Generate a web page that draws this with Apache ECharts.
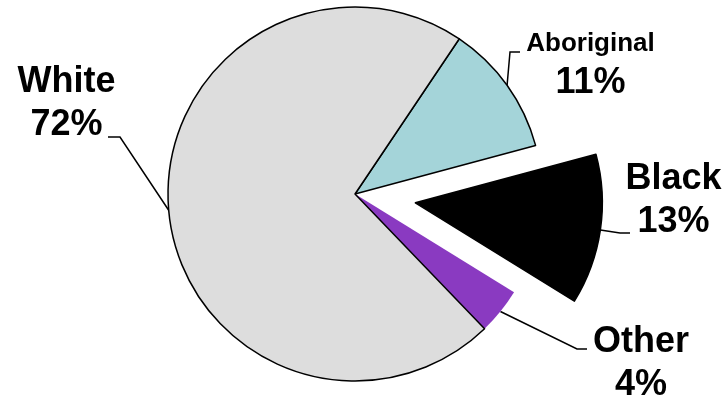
<!DOCTYPE html>
<html><head><meta charset="utf-8">
<script src="https://cdn.jsdelivr.net/npm/echarts@6/dist/echarts.min.js"></script>
<style>html,body{margin:0;padding:0;background:#fff}#c{width:727px;height:402px}</style>
</head><body><div id="c"></div>
<script>
const categories = ['Aboriginal', 'Black', 'Other', 'White'];
const shares = [11.4, 13.0, 4.0, 71.6];
const colors = ['#A4D4D9', '#000000', '#8A3AC1', '#DDDDDD'];
const explodedCategory = 'Black';

const FONT = '"Liberation Sans", Arial, sans-serif';
const CENTER = [355, 194];
const RADIUS = 187;
const START_ANGLE = 56.1;
const EXPLODE_OFFSET = 61;

// label anchor (block centre) and the two guide-line points next to it
const labelPlacement = {
  Aboriginal: { x: 590.5, y: 65, line: [[510, 52], [520, 52]] },
  Black: { x: 673.5, y: 200.5, line: [[620, 233], [630, 233]] },
  Other: { x: 641, y: 364, line: [[577, 349], [587, 349]] },
  White: { x: 66.5, y: 104, line: [[120, 137], [108, 137]] }
};

// direction of the exploded slice, from the data (clockwise from START_ANGLE)
const total = shares.reduce(function (a, b) { return a + b; }, 0);
const exIdx = categories.indexOf(explodedCategory);
let before = 0;
for (let i = 0; i < exIdx; i++) before += shares[i];
const midDeg = START_ANGLE - (before + shares[exIdx] / 2) / total * 360;
const midRad = midDeg * Math.PI / 180;
const exCenter = [CENTER[0] + Math.cos(midRad) * EXPLODE_OFFSET, CENTER[1] - Math.sin(midRad) * EXPLODE_OFFSET];

const transparent = 'rgba(0,0,0,0)';

function labelOpt() {
  return {
    show: true,
    position: 'outside',
    color: '#000',
    fontFamily: FONT,
    fontWeight: 'bold',
    formatter: function (p) {
      const nameStyle = p.name === 'Aboriginal' ? 'small' : 'big';
      return '{' + nameStyle + '|' + p.name + '}\n{big|' + Math.round(p.percent) + '%}';
    },
    rich: {
      big: { fontSize: 36, lineHeight: 43, fontWeight: 'bold', fontFamily: FONT, color: '#000', align: 'center' },
      small: { fontSize: 26, lineHeight: 37, fontWeight: 'bold', fontFamily: FONT, color: '#000', align: 'center' }
    }
  };
}

function layoutFn() {
  return function (params) {
    const name = categories[params.dataIndex];
    const pl = labelPlacement[name];
    const start = params.labelLinePoints ? params.labelLinePoints[0] : null;
    const out = { x: pl.x, y: pl.y, align: 'center', verticalAlign: 'middle' };
    if (start) out.labelLinePoints = [start, pl.line[0], pl.line[1]];
    return out;
  };
}

function buildData(visibleTest) {
  return categories.map(function (c, i) {
    const vis = visibleTest(c);
    return {
      name: c,
      value: shares[i],
      itemStyle: vis
        ? { color: colors[i], borderColor: '#000', borderWidth: c === 'Other' ? 0 : 1.5 }
        : { color: transparent, borderWidth: 0 },
      label: { show: vis },
      labelLine: { show: vis }
    };
  });
}

const common = {
  type: 'pie',
  radius: RADIUS,
  startAngle: START_ANGLE,
  clockwise: true,
  avoidLabelOverlap: false,
  emphasis: { disabled: true },
  silent: true,
  label: labelOpt(),
  labelLine: { show: true, length: 20, length2: 10, smooth: false, lineStyle: { color: '#000', width: 1.5 } },
  labelLayout: layoutFn()
};

const chart = echarts.init(document.getElementById('c'), null, { renderer: 'canvas' });
chart.setOption({
  animation: false,
  backgroundColor: '#ffffff',
  series: [
    Object.assign({}, common, {
      name: 'main',
      center: CENTER,
      data: buildData(function (c) { return c !== explodedCategory; })
    }),
    Object.assign({}, common, {
      name: 'exploded',
      center: exCenter,
      data: buildData(function (c) { return c === explodedCategory; })
    })
  ]
});
</script>
</body></html>
